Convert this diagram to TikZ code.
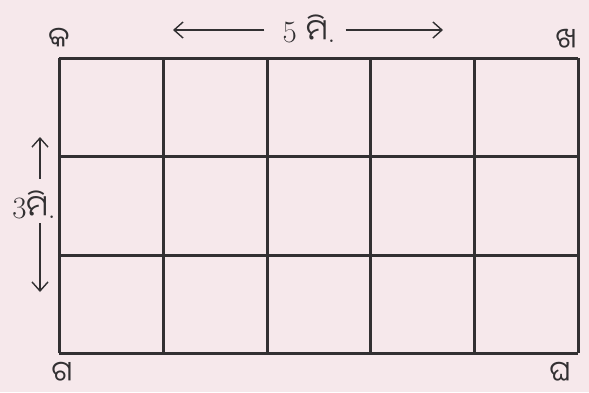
\documentclass[tikz,border=0pt]{standalone}
\usepackage{fontspec}
\newfontfamily\odia[Script=Oriya]{Noto Sans Oriya UI}
\usetikzlibrary{arrows.meta}
\definecolor{bgpink}{RGB}{246,232,235}
\definecolor{ink}{RGB}{50,48,50}
\begin{document}
\begin{tikzpicture}[x=1pt,y=-1pt,
  gridline/.style={draw=ink,line width=3pt},
  dimarrow/.style={draw=ink,line width=1.4pt,-{Straight Barb[length=9pt,width=16pt,line width=1.4pt]}},
  lbl/.style={text=ink,font=\odia\fontsize{28}{28}\selectfont,inner sep=0pt,anchor=base},
  dimlbl/.style={text=ink,font=\fontsize{31}{31}\selectfont,inner sep=0pt}]
\fill[bgpink] (0,0) rectangle (589,392);
\useasboundingbox (0,0) rectangle (589,392);
% grid
\foreach \x in {59,163,267,370,474,578} \draw[gridline] (\x,58) -- (\x,353);
\foreach \y in {58,156,255,353} \draw[gridline] (59,\y) -- (578,\y);
% corner labels
\node[lbl] (ka) at (59,49) {କ};
\node[lbl] (kha) at (566,50) {ଖ};
\node[lbl] (ga) at (62,383) {ଗ};
\node[lbl] (gha) at (560,383) {ଘ};
% horizontal dimension
\node[dimlbl] (hdim) at (309,29) {5 {\odia\fontsize{29}{29}\selectfont ମି}.};
\coordinate (hl) at (173,30);
\coordinate (hr) at (443,30);
\draw[dimarrow] ([xshift=-18pt]hdim.west |- hl) -- (hl);
\draw[dimarrow] ([xshift=10pt]hdim.east |- hr) -- (hr);
% vertical dimension
\node[dimlbl] (vdim) at (34,205) {3{\odia\fontsize{29}{29}\selectfont ମି}.};
\coordinate (vt) at (40,137);
\coordinate (vb) at (40,292);
\draw[dimarrow] ([yshift=12pt]vdim.north -| vt) -- (vt);
\draw[dimarrow] ([yshift=-4pt]vdim.south -| vb) -- (vb);
\end{tikzpicture}
\end{document}
